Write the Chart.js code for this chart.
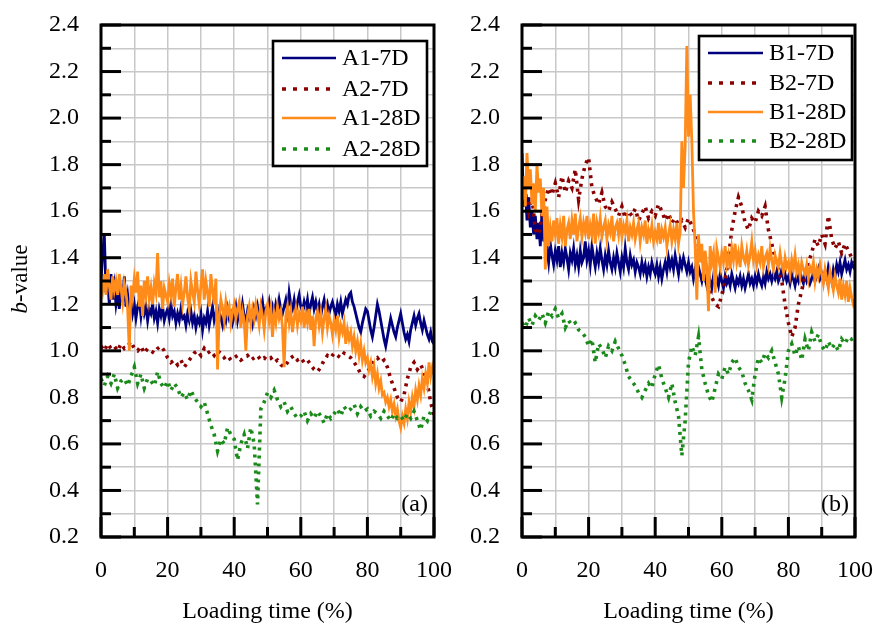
<!DOCTYPE html>
<html>
<head>
<meta charset="utf-8">
<script src="https://cdn.jsdelivr.net/npm/chart.js@4.4.0/dist/chart.umd.min.js"></script>
<style>
  html, body { margin: 0; padding: 0; background: #fff; }
  #wrap { position: relative; width: 873px; height: 626px; overflow: hidden; background: #fff; }
  #chartA { position: absolute; left: 0; top: 0; }
  #chartB { position: absolute; left: 440px; top: 0; z-index: 2; }
</style>
</head>
<body>
<div id="wrap">
  <canvas id="chartA" width="460" height="626"></canvas>
  <canvas id="chartB" width="433" height="626"></canvas>
</div>
<script>
// tick labels
const xTickLabels = ['0', '20', '40', '60', '80', '100'];
const yTickLabels = ['0.2', '0.4', '0.6', '0.8', '1.0', '1.2', '1.4', '1.6', '1.8', '2.0', '2.2', '2.4'];

// sampling grid: solid series every 0.5 %, dotted series every 1 %
const timeFine = Array.from({ length: 201 }, (_, i) => i * 0.5);
const timeCoarse = Array.from({ length: 101 }, (_, i) => i);

// panel (a)
const a1_7d = [
  1.30,1.42,1.50,1.25,1.30,1.20,1.33,1.22,1.28,1.20,
  1.25,1.18,1.27,1.21,1.32,1.19,1.24,1.17,1.22,1.16,
  1.20,1.14,1.19,1.22,1.15,1.21,1.16,1.19,1.13,1.18,
  1.16,1.20,1.14,1.17,1.12,1.18,1.15,1.19,1.13,1.16,
  1.18,1.14,1.20,1.15,1.17,1.12,1.16,1.13,1.18,1.14,
  1.15,1.11,1.16,1.13,1.17,1.12,1.15,1.10,1.14,1.12,
  1.16,1.09,1.14,1.12,1.17,1.11,1.15,1.19,1.13,1.16,
  1.12,1.17,1.14,1.11,1.16,1.13,1.18,1.14,1.16,1.12,
  1.15,1.19,1.13,1.17,1.14,1.20,1.15,1.12,1.17,1.14,
  1.16,1.12,1.18,1.15,1.19,1.14,1.17,1.21,1.15,1.18,
  1.17,1.21,1.16,1.19,1.15,1.20,1.17,1.22,1.18,1.16,
  1.19,1.22,1.17,1.25,1.20,1.18,1.22,1.17,1.21,1.24,
  1.19,1.17,1.21,1.18,1.22,1.16,1.20,1.23,1.18,1.21,
  1.17,1.20,1.15,1.19,1.22,1.17,1.20,1.16,1.19,1.21,
  1.18,1.15,1.20,1.17,1.21,1.16,1.19,1.22,1.20,1.24,
  1.25,1.21,1.19,1.16,1.13,1.10,1.08,1.12,1.15,1.18,
  1.17,1.13,1.09,1.06,1.10,1.15,1.20,1.17,1.13,1.09,
  1.05,1.02,1.06,1.10,1.14,1.11,1.08,1.06,1.10,1.13,
  1.16,1.12,1.08,1.05,1.07,1.04,1.09,1.12,1.15,1.11,
  1.14,1.16,1.12,1.09,1.13,1.10,1.07,1.05,1.08,1.04,
  1.03
];
const a2_7d = [
  1.02,1.00,1.03,1.01,1.02,1.00,1.03,1.01,1.02,1.04,
  1.01,1.00,1.02,0.99,1.01,1.00,0.99,1.01,1.02,1.00,
  0.97,0.95,0.96,0.94,0.96,0.93,0.95,0.97,0.99,1.00,
  0.98,1.01,0.99,1.00,0.98,1.00,0.99,0.97,0.98,0.96,
  0.97,0.98,0.96,0.97,0.98,0.96,0.97,0.98,0.96,0.97,
  0.96,0.97,0.95,0.96,0.94,0.93,0.95,0.97,0.98,0.96,
  0.97,0.95,0.96,0.94,0.92,0.91,0.93,0.96,0.98,0.97,
  0.99,0.98,0.97,0.99,0.98,0.97,0.95,0.93,0.90,0.89,
  0.91,0.93,0.96,0.97,0.95,0.96,0.93,0.88,0.84,0.80,
  0.78,0.81,0.88,0.93,0.95,0.92,0.94,0.91,0.86,0.78,
  0.72
];
const a1_28d = [
  1.30,1.26,1.33,1.24,1.35,1.28,1.22,1.32,1.26,1.30,
  1.24,1.33,1.27,1.21,1.29,1.25,1.18,1.00,1.28,1.23,
  1.31,1.25,1.34,1.19,1.28,1.15,1.30,1.24,1.32,1.22,
  1.27,1.20,1.29,1.25,1.42,1.23,1.30,1.18,1.27,1.24,
  1.21,1.29,1.24,1.31,1.19,1.27,1.33,1.22,1.28,1.20,
  1.25,1.32,1.23,1.18,1.30,1.25,1.21,1.34,1.26,1.20,
  1.28,1.35,1.22,1.30,1.25,1.19,1.33,1.26,1.20,1.31,
  0.92,1.15,1.22,1.18,1.13,1.21,1.16,1.19,1.12,1.17,
  1.20,1.14,1.18,1.21,1.10,1.17,1.13,1.00,1.15,1.19,
  1.12,1.18,1.14,1.20,1.16,1.11,1.19,1.15,1.09,1.17,
  1.20,1.13,1.18,1.06,1.16,1.12,1.19,1.14,1.17,1.10,
  0.93,1.15,1.19,1.12,1.17,1.08,1.14,1.18,1.11,1.16,
  1.13,1.19,1.10,1.16,1.12,1.18,1.09,1.15,1.02,1.14,
  1.17,1.11,1.16,1.08,1.14,1.18,1.10,1.15,1.12,1.07,
  1.13,1.09,1.15,1.06,1.11,1.08,1.12,1.03,1.09,1.05,
  1.08,1.02,1.06,1.00,1.04,0.98,1.03,0.96,1.00,0.95,
  0.97,0.92,0.95,0.89,0.93,0.86,0.90,0.84,0.87,0.81,
  0.82,0.78,0.80,0.76,0.79,0.74,0.77,0.72,0.75,0.70,
  0.67,0.72,0.69,0.75,0.71,0.78,0.74,0.80,0.76,0.83,
  0.79,0.85,0.81,0.88,0.84,0.90,0.86,0.95,0.89,0.93,
  0.90
];
const a2_28d = [
  0.88,0.85,0.89,0.86,0.90,0.84,0.87,0.88,0.85,0.89,
  0.93,0.86,0.90,0.84,0.88,0.87,0.85,0.91,0.86,0.84,
  0.87,0.83,0.86,0.84,0.80,0.82,0.79,0.83,0.80,0.78,
  0.76,0.78,0.73,0.68,0.64,0.57,0.62,0.60,0.67,0.64,
  0.62,0.53,0.60,0.64,0.58,0.67,0.60,0.34,0.75,0.78,
  0.82,0.80,0.83,0.79,0.76,0.78,0.74,0.76,0.73,0.71,
  0.72,0.74,0.70,0.73,0.71,0.74,0.72,0.69,0.73,0.71,
  0.73,0.75,0.72,0.76,0.74,0.75,0.77,0.73,0.76,0.74,
  0.75,0.72,0.74,0.73,0.71,0.74,0.72,0.70,0.73,0.71,
  0.72,0.70,0.73,0.71,0.74,0.70,0.66,0.72,0.70,0.74,
  0.73
];

// panel (b)
const b1_7d = [
  1.85,1.62,1.70,1.56,1.66,1.53,1.60,1.50,1.58,1.48,
  1.55,1.45,1.60,1.47,1.52,1.44,1.38,1.46,1.41,1.37,
  1.43,1.39,1.45,1.36,1.42,1.38,1.44,1.40,1.35,1.42,
  1.39,1.44,1.37,1.41,1.36,1.43,1.38,1.40,1.47,1.39,
  1.43,1.37,1.45,1.40,1.36,1.42,1.38,1.44,1.39,1.35,
  1.41,1.37,1.43,1.38,1.35,1.40,1.36,1.42,1.38,1.34,
  1.40,1.36,1.44,1.38,1.35,1.41,1.37,1.39,1.34,1.38,
  1.36,1.33,1.38,1.34,1.37,1.32,1.36,1.33,1.38,1.35,
  1.33,1.37,1.32,1.36,1.31,1.35,1.38,1.34,1.40,1.36,
  1.39,1.35,1.41,1.37,1.33,1.39,1.36,1.40,1.37,1.34,
  1.38,1.34,1.36,1.31,1.35,1.32,1.36,1.33,1.30,1.34,
  1.31,1.28,1.33,1.30,1.27,1.32,1.29,1.31,1.28,1.33,
  1.30,1.27,1.32,1.29,1.31,1.28,1.33,1.30,1.27,1.31,
  1.29,1.32,1.28,1.31,1.27,1.30,1.33,1.29,1.31,1.28,
  1.32,1.29,1.33,1.30,1.28,1.32,1.29,1.34,1.31,1.33,
  1.30,1.33,1.31,1.34,1.30,1.32,1.35,1.31,1.33,1.30,
  1.32,1.29,1.33,1.31,1.28,1.32,1.30,1.34,1.31,1.29,
  1.33,1.30,1.32,1.29,1.31,1.34,1.30,1.32,1.35,1.31,
  1.33,1.30,1.34,1.31,1.36,1.33,1.30,1.35,1.32,1.37,
  1.34,1.38,1.33,1.36,1.39,1.35,1.37,1.34,1.38,1.36,
  1.35
];
const b2_7d = [
  1.62,1.68,1.60,1.66,1.52,1.50,1.58,1.65,1.70,1.67,
  1.72,1.66,1.75,1.68,1.73,1.70,1.78,1.65,1.74,1.80,
  1.83,1.70,1.66,1.63,1.68,1.62,1.60,1.64,1.61,1.58,
  1.62,1.57,1.60,1.58,1.61,1.56,1.59,1.62,1.57,1.60,
  1.58,1.63,1.60,1.56,1.59,1.55,1.57,1.54,1.56,1.53,
  1.57,1.54,1.50,1.45,1.40,1.33,1.28,1.23,1.20,1.19,
  1.24,1.30,1.40,1.52,1.60,1.66,1.62,1.55,1.52,1.57,
  1.55,1.60,1.58,1.62,1.52,1.46,1.40,1.35,1.30,1.20,
  1.12,1.06,1.10,1.20,1.26,1.32,1.38,1.42,1.48,1.45,
  1.50,1.46,1.58,1.48,1.44,1.47,1.42,1.46,1.43,1.40,
  1.38
];
const b1_28d = [
  1.65,1.75,1.62,1.85,1.70,1.78,1.63,1.72,1.60,1.80,
  1.68,1.74,1.58,1.70,1.35,1.62,1.45,1.53,1.47,1.56,
  1.50,1.57,1.46,1.54,1.49,1.58,1.45,1.52,1.55,1.48,
  1.56,1.50,1.59,1.47,1.53,1.57,1.49,1.55,1.51,1.58,
  1.48,1.54,1.50,1.59,1.46,1.55,1.51,1.57,1.49,1.53,
  1.56,1.48,1.54,1.51,1.58,1.47,1.53,1.55,1.50,1.57,
  1.49,1.54,1.51,1.56,1.47,1.53,1.50,1.55,1.48,1.52,
  1.55,1.47,1.53,1.50,1.56,1.46,1.52,1.49,1.54,1.47,
  1.51,1.48,1.55,1.46,1.52,1.49,1.53,1.45,1.50,1.54,
  1.47,1.52,1.48,1.55,1.46,1.51,1.90,1.70,1.88,2.31,
  1.92,2.10,1.90,1.60,1.45,1.22,1.50,1.38,1.46,1.30,
  1.43,1.36,1.17,1.45,1.38,1.42,1.25,1.44,1.40,1.36,
  1.42,1.38,1.45,1.37,1.41,1.35,1.44,1.39,1.46,1.38,
  1.42,1.36,1.45,1.40,1.38,1.43,1.37,1.41,1.47,1.39,
  1.43,1.37,1.41,1.38,1.45,1.36,1.40,1.42,1.37,1.44,
  1.39,1.35,1.41,1.38,1.36,1.42,1.37,1.34,1.40,1.36,
  1.38,1.33,1.39,1.35,1.41,1.34,1.37,1.32,1.38,1.35,
  1.33,1.37,1.31,1.36,1.34,1.38,1.30,1.35,1.32,1.37,
  1.33,1.29,1.35,1.31,1.27,1.34,1.30,1.26,1.32,1.28,
  1.25,1.31,1.22,1.28,1.24,1.30,1.21,1.27,1.23,1.20,
  1.22
];
const b2_28d = [
  1.12,1.10,1.14,1.11,1.15,1.13,1.16,1.12,1.17,1.15,
  1.18,1.14,1.16,1.10,1.13,1.11,1.12,1.09,1.08,1.06,
  1.02,1.05,0.95,1.03,1.01,0.97,1.02,1.00,1.04,1.01,
  0.98,0.94,0.89,0.87,0.85,0.82,0.80,0.83,0.86,0.84,
  0.90,0.94,0.88,0.84,0.80,0.86,0.78,0.72,0.55,0.70,
  0.95,1.02,0.98,1.06,0.92,0.86,0.81,0.78,0.84,0.90,
  0.88,0.93,0.90,0.95,0.97,0.93,0.91,0.86,0.83,0.79,
  0.90,0.97,0.95,0.99,0.97,1.00,0.95,0.90,0.80,0.88,
  1.00,1.03,0.98,1.02,0.96,1.05,1.00,1.08,1.04,1.07,
  1.02,1.00,1.04,1.01,1.03,1.00,1.05,1.03,1.06,1.05,
  1.06
];

const NAVY = '#00007f', DARKRED = '#8b0000', ORANGE = '#ff8c1a', GREEN = '#1a8a1a';
const FONT = "'Liberation Serif', 'DejaVu Serif', serif";
const DOTS = [3, 5];

function series(label, times, vals, color, dotted, idx) {
  return {
    label: label,
    data: vals.map((v, i) => ({ x: times[i], y: v })),
    borderColor: color,
    backgroundColor: color,
    borderWidth: dotted ? 3.6 : 2.8,
    borderDash: dotted ? DOTS : [],
    pointRadius: 0,
    tension: 0,
    fill: false,
    order: 3 - idx
  };
}

// frame, inward ticks, legend box, panel letter, y title
const decor = {
  id: 'decor',
  afterDatasetsDraw(chart, args, o) {
    const { ctx, chartArea: a, scales: { x, y } } = chart;
    ctx.save();
    ctx.strokeStyle = '#000';
    ctx.lineWidth = 3;
    ctx.setLineDash([]);
    for (let k = 2; k <= 24; k++) {
      const py = y.getPixelForValue(k / 10);
      const len = k % 2 === 0 ? 20 : 10;
      ctx.beginPath(); ctx.moveTo(a.left, py); ctx.lineTo(a.left + len, py); ctx.stroke();
    }
    for (let k = 0; k <= 100; k += 10) {
      const px = x.getPixelForValue(k);
      const len = k % 20 === 0 ? 20 : 10;
      ctx.beginPath(); ctx.moveTo(px, a.bottom); ctx.lineTo(px, a.bottom - len); ctx.stroke();
    }
    ctx.strokeRect(a.left, a.top, a.right - a.left, a.bottom - a.top);

    // legend
    const L = o.legend;
    ctx.fillStyle = '#fff';
    ctx.fillRect(L.x, L.y, L.w, L.h);
    ctx.lineWidth = 2.6;
    ctx.strokeRect(L.x, L.y, L.w, L.h);
    ctx.font = '24px ' + FONT;
    ctx.textBaseline = 'middle';
    ctx.textAlign = 'left';
    chart.data.datasets.forEach((ds, i) => {
      const ry = L.rows[i];
      ctx.strokeStyle = ds.borderColor;
      ctx.lineWidth = ds.borderDash.length ? 3.4 : 2.6;
      ctx.setLineDash(ds.borderDash.length ? [4, 7] : []);
      ctx.beginPath(); ctx.moveTo(L.s0, ry); ctx.lineTo(L.s1, ry); ctx.stroke();
      ctx.setLineDash([]);
      ctx.fillStyle = '#000';
      ctx.fillText(ds.label, L.tx, ry + 1);
    });

    // panel letter
    ctx.font = '24px ' + FONT;
    ctx.textAlign = 'right';
    ctx.fillStyle = '#000';
    ctx.fillText(o.letter, a.right - 6, 505);

    // y title with italic b
    if (o.yTitle) {
      ctx.translate(21, 279);
      ctx.rotate(-Math.PI / 2);
      ctx.textBaseline = 'middle';
      ctx.textAlign = 'left';
      ctx.font = 'italic 23px ' + FONT;
      const wb = ctx.measureText('b').width;
      ctx.font = '23px ' + FONT;
      const wr = ctx.measureText('-value').width;
      const start = -(wb + wr) / 2;
      ctx.font = 'italic 23px ' + FONT;
      ctx.fillText('b', start, 0);
      ctx.font = '23px ' + FONT;
      ctx.fillText('-value', start + wb, 0);
    }
    ctx.restore();
  }
};

function makeChart(id, datasets, yWidth, padRight, legend, letter, yTitle) {
  return new Chart(document.getElementById(id), {
    type: 'line',
    data: { datasets: datasets },
    options: {
      responsive: false,
      animation: false,
      events: [],
      layout: { padding: { top: 25, right: padRight, left: 0, bottom: 0 } },
      plugins: {
        legend: { display: false },
        tooltip: { enabled: false },
        decor: { legend: legend, letter: letter, yTitle: yTitle }
      },
      scales: {
        x: {
          type: 'linear',
          min: 0, max: 100,
          grid: { color: '#c8c8c8', lineWidth: 1.5, drawTicks: false },
          border: { display: false },
          ticks: {
            stepSize: 10, autoSkip: false, maxRotation: 0, padding: 19,
            color: '#000', font: { family: FONT, size: 24 },
            callback: v => (v % 20 === 0 ? xTickLabels[v / 20] : '')
          },
          title: {
            display: true, text: 'Loading time (%)', color: '#000',
            font: { family: FONT, size: 24 }, padding: { top: 0, bottom: 0 }
          },
          afterFit: s => { s.height = 89; s.paddingLeft = 0; s.paddingRight = 0; }
        },
        y: {
          type: 'linear',
          min: 0.2, max: 2.4,
          grid: { color: '#c8c8c8', lineWidth: 1.5, drawTicks: false },
          border: { display: false },
          ticks: {
            stepSize: 0.1, autoSkip: false, padding: 22,
            color: '#000', font: { family: FONT, size: 24 },
            callback: v => {
              const k = Math.round(v * 10);
              return k % 2 === 0 ? yTickLabels[(k - 2) / 2] : '';
            }
          },
          afterFit: s => { s.width = yWidth; s.paddingTop = 0; s.paddingBottom = 0; }
        }
      }
    },
    plugins: [decor]
  });
}

makeChart('chartA', [
  series('A1-7D', timeFine, a1_7d, NAVY, false, 0),
  series('A2-7D', timeCoarse, a2_7d, DARKRED, true, 1),
  series('A1-28D', timeFine, a1_28d, ORANGE, false, 2),
  series('A2-28D', timeCoarse, a2_28d, GREEN, true, 3)
], 101, 26,
{ x: 273, y: 41, w: 154, h: 125, rows: [58, 89, 118, 149], s0: 282, s1: 336, tx: 342 },
'(a)', true);

makeChart('chartB', [
  series('B1-7D', timeFine, b1_7d, NAVY, false, 0),
  series('B2-7D', timeCoarse, b2_7d, DARKRED, true, 1),
  series('B1-28D', timeFine, b1_28d, ORANGE, false, 2),
  series('B2-28D', timeCoarse, b2_28d, GREEN, true, 3)
], 82, 18,
{ x: 259, y: 36, w: 153, h: 124, rows: [53, 83, 112, 141], s0: 268, s1: 323, tx: 329 },
'(b)', false);
</script>
</body>
</html>
